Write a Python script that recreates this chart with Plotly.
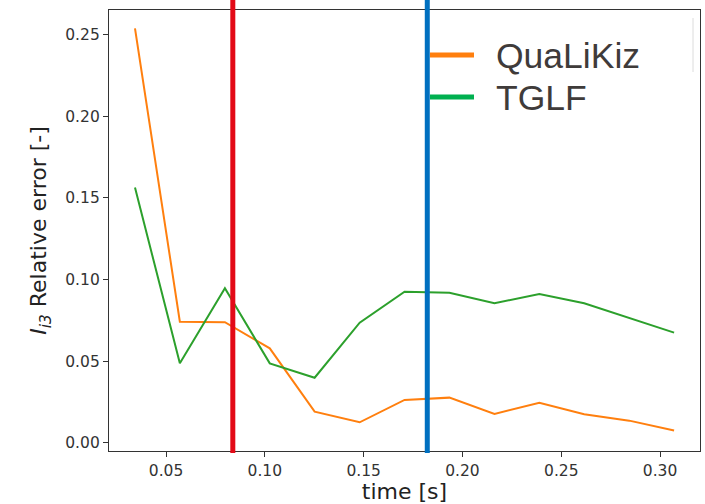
import plotly.graph_objects as go

# Simulation times [s]
time_s = [0.0343, 0.0570, 0.0798, 0.1025, 0.1252, 0.1480, 0.1707,
          0.1934, 0.2162, 0.2389, 0.2616, 0.2844, 0.3071]

# Relative error of I_i3 for each transport model
qualikiz_err = [0.2539, 0.0741, 0.0738, 0.0578, 0.0190, 0.0125, 0.0262,
                0.0276, 0.0176, 0.0245, 0.0174, 0.0135, 0.0074]
tglf_err = [0.1563, 0.0486, 0.0946, 0.0486, 0.0398, 0.0735, 0.0925,
            0.0919, 0.0854, 0.0911, 0.0854, 0.0762, 0.0674]

# Marker times (vertical lines)
marker_times = [0.0838, 0.1822]
marker_colors = ["#e30a17", "#0070c0"]

series_names = ["QuaLiKiz", "TGLF"]
line_colors = ["#ff7f0e", "#2ca02c"]
legend_colors = ["#ff7f0e", "#00b050"]

W, H = 705, 504
ML, MR, MT, MB = 109, 5, 10, 53
PW, PH = W - ML - MR, H - MT - MB


def px_x(p):
    return (p - ML) / PW


def px_y(p):
    return (H - MB - p) / PH


fig = go.Figure()
for name, ys, col in zip(series_names, [qualikiz_err, tglf_err], line_colors):
    fig.add_trace(go.Scatter(x=time_s, y=ys, mode="lines", name=name,
                             line=dict(color=col, width=2),
                             showlegend=False))

shapes = []
for t, c in zip(marker_times, marker_colors):
    shapes.append(dict(type="line", xref="x", yref="paper",
                       x0=t, x1=t, y0=px_y(453), y1=px_y(0),
                       line=dict(color=c, width=5)))

# Legend drawn as line samples and labels
annotations = []
for i, (name, col) in enumerate(zip(series_names, legend_colors)):
    ypix = 55 + 42 * i
    shapes.append(dict(type="line", xref="paper", yref="paper",
                       x0=px_x(430), x1=px_x(474), y0=px_y(ypix), y1=px_y(ypix),
                       line=dict(color=col, width=5)))
    annotations.append(dict(xref="paper", yref="paper", x=px_x(494),
                            y=px_y(ypix + 1), xanchor="left", yanchor="middle",
                            text=name, showarrow=False,
                            font=dict(family="Liberation Sans", size=35.5,
                                      color="#3f3b3a")))

# faint text-box edge
shapes.append(dict(type="line", xref="paper", yref="paper",
                   x0=px_x(693), x1=px_x(693), y0=px_y(18), y1=px_y(72),
                   line=dict(color="#dcdcdc", width=1)))

axis_common = dict(showgrid=False, zeroline=False, showline=True, mirror=True,
                   linecolor="#333333", linewidth=1.3, ticks="outside",
                   ticklen=5, tickwidth=1.2, tickcolor="#333333", automargin=False,
                   tickfont=dict(family="DejaVu Sans", size=15.5, color="#333333"))

fig.update_layout(
    width=W, height=H,
    margin=dict(l=ML, r=MR, t=MT, b=MB, autoexpand=False),
    paper_bgcolor="white", plot_bgcolor="white",
    shapes=shapes, annotations=annotations,
    xaxis=dict(range=[0.02115, 0.3202], tickvals=[0.05, 0.10, 0.15, 0.20, 0.25, 0.30],
               ticktext=["0.05", "0.10", "0.15", "0.20", "0.25", "0.30"],
               title=dict(text="time [s]", standoff=15,
                          font=dict(family="DejaVu Sans", size=22, color="#222222")),
               **axis_common),
    yaxis=dict(range=[-0.0051, 0.2651], tickvals=[0.0, 0.05, 0.10, 0.15, 0.20, 0.25],
               ticktext=["0.00", "0.05", "0.10", "0.15", "0.20", "0.25"],
               title=dict(text="<i>I<sub>i3</sub></i> Relative error [-]", standoff=12,
                          font=dict(family="DejaVu Sans", size=22, color="#222222")),
               **axis_common),
)

fig.write_html("out.html")
